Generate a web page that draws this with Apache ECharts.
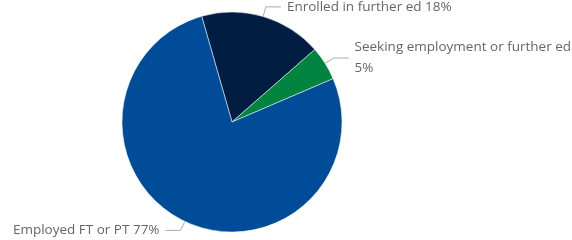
<!DOCTYPE html>
<html>
<head>
    <meta charset="utf-8" />
    <title>Outcomes</title>
    <script src="https://cdn.jsdelivr.net/npm/echarts@6/dist/echarts.min.js"></script>
</head>
<body style="margin:0;">
    <div style="width:572px;height:240px;" id="chart"></div>
</body>
</html>
<script>
    var names = ['Enrolled in further ed', 'Seeking employment or further ed', 'Employed FT or PT'];
    var values = [18, 5, 77];
    var labels = ['Enrolled in further ed 18%', 'Seeking employment or further ed\n5%', 'Employed FT or PT 77%'];
    var colors = ['#011e42', '#00843f', '#004c98'];

    var myChart = echarts.init(document.getElementById('chart'));

    var data = names.map(function (n, i) {
        return { name: n, value: values[i], itemStyle: { color: colors[i] } };
    });

    var option = {
        animation: false,
        series: [{
            type: 'pie',
            center: [232, 122],
            radius: 110,
            startAngle: 106,
            clockwise: true,
            avoidLabelOverlap: false,
            data: data,
            itemStyle: { borderColor: '#ffffff', borderWidth: 0.5 },
            label: {
                formatter: function (p) { return labels[p.dataIndex]; },
                color: '#666666',
                fontFamily: 'Open Sans',
                fontSize: 13.5,
                lineHeight: 21,
                distanceToLabelLine: 6
            },
            labelLine: {
                length: 10,
                length2: 15,
                lineStyle: { color: '#aaaaaa', width: 1 }
            }
        }]
    };
    myChart.setOption(option);
</script>
